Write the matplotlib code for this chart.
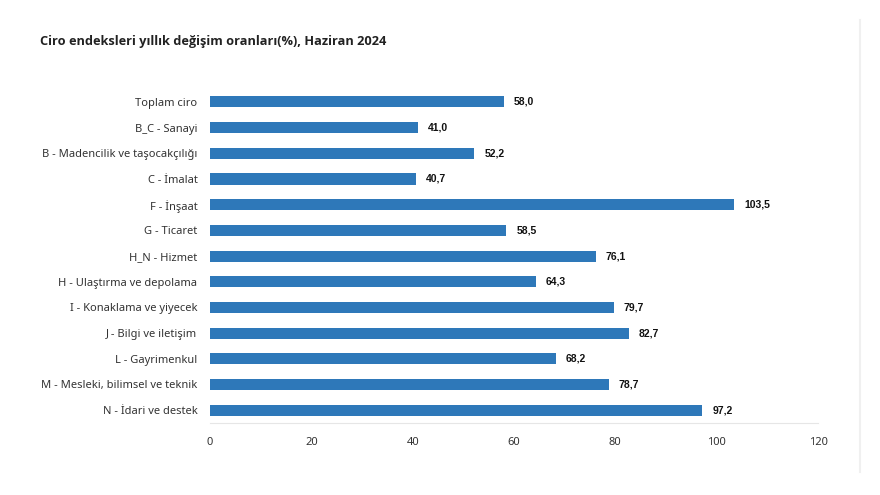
import matplotlib
matplotlib.use("Agg")
import matplotlib.pyplot as plt

categories = ["Toplam ciro", "B_C - Sanayi", "B - Madencilik ve taşocakçılığı",
              "C - İmalat", "F - İnşaat", "G - Ticaret", "H_N - Hizmet",
              "H - Ulaştırma ve depolama", "I - Konaklama ve yiyecek",
              "J - Bilgi ve iletişim", "L - Gayrimenkul",
              "M - Mesleki, bilimsel ve teknik", "N - İdari ve destek"]
values = [58.0, 41.0, 52.2, 40.7, 103.5, 58.5, 76.1, 64.3, 79.7, 82.7, 68.2, 78.7, 97.2]
xticks = [0, 20, 40, 60, 80, 100, 120]

plt.rcParams['font.family'] = ['Noto Sans', 'DejaVu Sans']

fig = plt.figure(figsize=(8.8, 4.95), dpi=100)
ax = fig.add_axes([0.2386, 0.1455, 0.6909, 0.6745])

ypos = list(range(len(categories)))
ax.barh(ypos, values, height=0.43, color='#2e78b9')
for y, v in zip(ypos, values):
    ax.text(v + 2.0, y, f"{v:.1f}".replace('.', ','), va='center', ha='left',
            fontsize=7.5, fontweight='bold', family='Liberation Sans', color='#111111')

ax.set_ylim(len(categories) - 0.5, -0.5)
ax.set_xlim(0, 120)
ax.set_yticks(ypos)
ax.set_yticklabels(categories, fontsize=8, color='#333333')
ax.set_xticks(xticks)
ax.set_xticklabels([str(t) for t in xticks], fontsize=8, color='#333333')
ax.tick_params(axis='both', length=0)
ax.tick_params(axis='y', pad=9)
ax.tick_params(axis='x', pad=10)
for s in ['top', 'right', 'left']:
    ax.spines[s].set_visible(False)
ax.spines['bottom'].set_color('#e6e6e6')

fig.text(40 / 880, 1 - 41 / 495, "Ciro endeksleri yıllık değişim oranları(%), Haziran 2024",
         fontsize=9.2, fontweight='bold', family=['Open Sans', 'DejaVu Sans'],
         color='#222222', va='center')

# light divider at the right edge
fig.add_artist(plt.Line2D([860 / 880, 860 / 880], [1 - 20 / 495, 1 - 472 / 495],
                          color='#f0f0f0', lw=1.5))

fig.savefig("out.png", dpi=100)
